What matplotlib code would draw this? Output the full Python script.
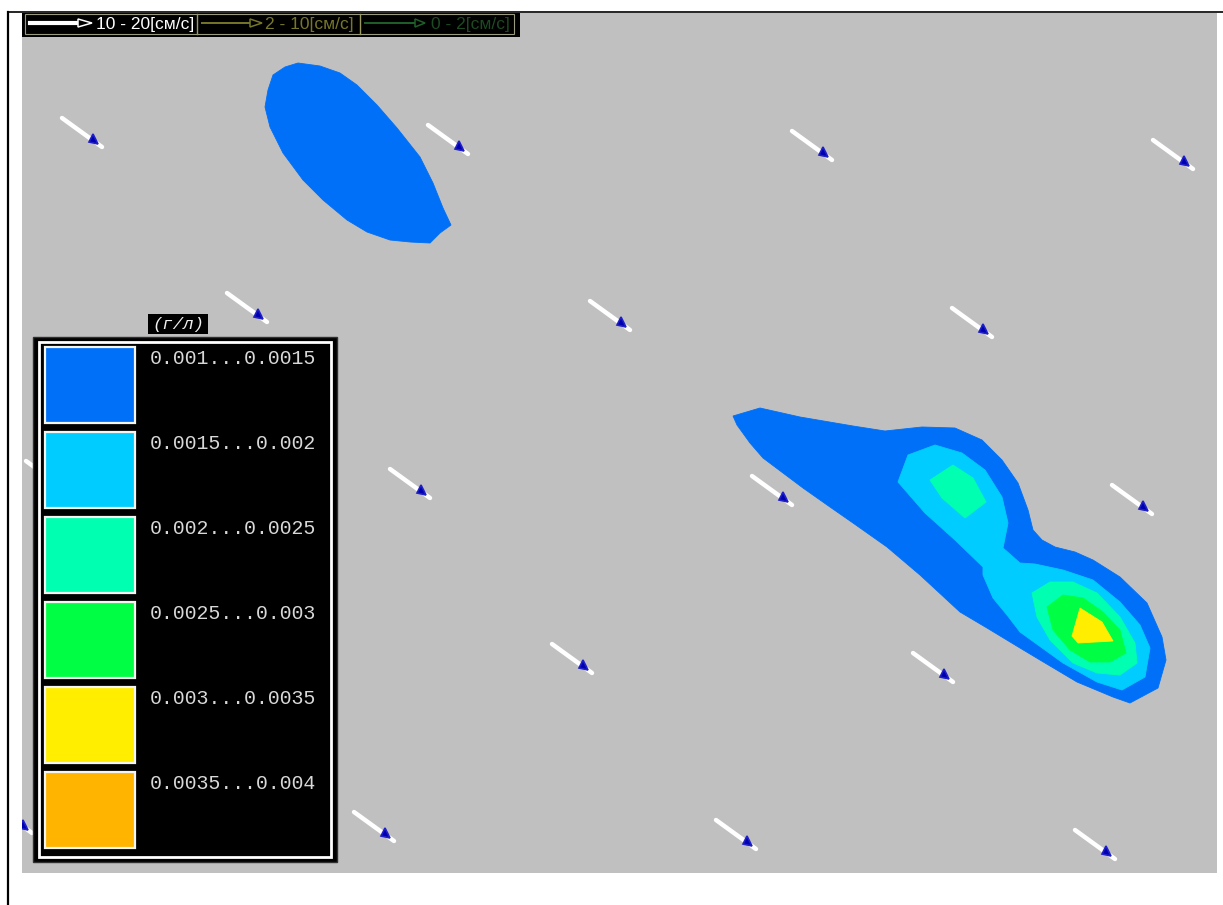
import matplotlib
matplotlib.use("Agg")
import matplotlib.pyplot as plt
from matplotlib.patches import Polygon, Rectangle

W, H = 1223, 905

# контуры концентрации (координаты снимка, пиксели)
blob_top = [(273, 75), (285, 67), (298, 63), (320, 66), (340, 73), (357, 85), (377, 105), (397, 128),
            (420, 157), (433, 183), (443, 208), (451, 225), (440, 233), (430, 243), (410, 242), (390, 240),
            (367, 232), (347, 220), (323, 200), (303, 180), (283, 153), (270, 127), (265, 107), (268, 90)]
blob_main = [(733, 416), (760, 408), (800, 417), (853, 426), (885, 431), (922, 427), (955, 428), (982, 440),
             (1002, 460), (1018, 483), (1028, 510), (1033, 530), (1042, 540), (1055, 547), (1075, 552),
             (1093, 560), (1120, 577), (1147, 603), (1162, 637), (1166, 660), (1158, 688), (1130, 703),
             (1113, 697), (1077, 682), (1040, 660), (1020, 648), (987, 628), (960, 612), (920, 575),
             (887, 547), (853, 523), (830, 507), (803, 488), (783, 473), (763, 458), (750, 443), (737, 425)]
blob_cyan = [(898, 482), (908, 455), (935, 445), (962, 453), (985, 470), (1002, 497), (1008, 523), (1003, 548),
             (1020, 563), (1035, 564), (1063, 570), (1093, 580), (1120, 602), (1140, 625), (1150, 648),
             (1145, 677), (1122, 690), (1097, 682), (1063, 663), (1020, 632), (1007, 615), (993, 598),
             (983, 575), (983, 567), (955, 540), (925, 513)]
blob_teal_a = [(930, 480), (953, 465), (973, 478), (986, 502), (965, 518), (942, 498)]
blob_teal_b = [(1032, 593), (1050, 582), (1073, 582), (1097, 593), (1120, 617), (1135, 643), (1137, 663),
               (1120, 675), (1097, 673), (1073, 663), (1050, 640), (1037, 617)]
blob_green = [(1047, 607), (1063, 595), (1083, 598), (1103, 612), (1120, 630), (1126, 653), (1110, 662),
              (1090, 662), (1070, 650), (1053, 630)]
blob_yellow = [(1080, 608), (1102, 622), (1113, 641), (1078, 643), (1072, 636)]

arrow_x = [62, 428, 792, 1153, 227, 590, 952, 26, 390, 752, 1112, 552, 913, -8, 354, 716, 1075]
arrow_y = [118, 125, 131, 140, 293, 301, 308, 461, 469, 476, 485, 644, 653, 804, 812, 820, 830]

legend_labels = ["0.001...0.0015", "0.0015...0.002", "0.002...0.0025",
                 "0.0025...0.003", "0.003...0.0035", "0.0035...0.004"]
legend_colors = ["#0070f8", "#00ccff", "#00ffb0", "#00ff44", "#ffee00", "#ffb400"]

speed_labels = ["10 - 20[см/с]", "2 - 10[см/с]", "0 - 2[см/с]"]
speed_colors = ["#ffffff", "#77772a", "#1f5f2a"]
speed_text_colors = ["#ffffff", "#77772a", "#1c4a22"]

fig = plt.figure(figsize=(W / 100, H / 100), dpi=100)
ax = fig.add_axes([0, 0, 1, 1])
ax.set_xlim(0, W)
ax.set_ylim(H, 0)
ax.axis("off")

# рамка страницы и поле карты
ax.plot([8, 8], [905, 12], color="black", lw=1.6, zorder=1)
ax.plot([8, 1223], [12, 12], color="black", lw=1.2, zorder=1)
field = Rectangle((22, 13), 1195, 860, facecolor="#c0c0c0", edgecolor="none", zorder=1)
ax.add_patch(field)

for pts, col in [(blob_top, legend_colors[0]), (blob_main, legend_colors[0]), (blob_cyan, legend_colors[1]),
                 (blob_teal_a, legend_colors[2]), (blob_teal_b, legend_colors[2]),
                 (blob_green, legend_colors[3]), (blob_yellow, legend_colors[4])]:
    ax.add_patch(Polygon(pts, closed=True, facecolor=col, edgecolor=col, lw=0.6, zorder=2))

# стрелки течения
for x, y in zip(arrow_x, arrow_y):
    line, = ax.plot([x, x + 40], [y, y + 29], color="white", lw=3.2, solid_capstyle="round", zorder=3)
    line.set_clip_path(field)
    head = Polygon([(x + 31, y + 16), (x + 27, y + 24), (x + 36, y + 26)], closed=True,
                   facecolor="#0000b0", edgecolor="#2020c8", lw=1.2, zorder=4)
    ax.add_patch(head)
    head.set_clip_path(field)

# легенда скоростей
ax.add_patch(Rectangle((22, 13), 498, 24, facecolor="black", edgecolor="none", zorder=5))
ax.add_patch(Rectangle((25, 14), 489, 20, facecolor="none", edgecolor="#9a9a80", lw=0.8, zorder=6))
for sep in [197, 360]:
    ax.plot([sep, sep], [14, 34], color="#9a9a60", lw=1, zorder=6)
line_starts = [30, 202, 365]
line_ends = [78, 250, 415]
head_ends = [92, 262, 425]
text_starts = [96, 265, 431]
for i, lab in enumerate(speed_labels):
    ax.plot([line_starts[i], line_ends[i]], [23, 23], color=speed_colors[i], lw=3 if i == 0 else 1.4, zorder=6)
    ax.add_patch(Polygon([(line_ends[i], 19), (head_ends[i], 23), (line_ends[i], 27)], closed=True,
                         facecolor="black", edgecolor=speed_colors[i], lw=1.1, zorder=6))
    ax.text(text_starts[i], 25, lab, color=speed_text_colors[i], fontsize=12.5, family="Liberation Sans",
            va="center", ha="left", zorder=7)

# легенда концентраций
ax.add_patch(Rectangle((148, 314), 60, 20, facecolor="black", edgecolor="none", zorder=5))
ax.text(178, 324, "(г/л)", color="#f0f0f0", fontsize=12.5, family="Liberation Mono", style="italic",
        ha="center", va="center", zorder=6)
ax.add_patch(Rectangle((33, 337), 304, 525, facecolor="black", edgecolor="#303030", lw=1, zorder=5))
ax.add_patch(Rectangle((39, 342), 292, 515, facecolor="none", edgecolor="white", lw=2, zorder=6))
for i, (lab, col) in enumerate(zip(legend_labels, legend_colors)):
    top = 347 + 85 * i
    ax.add_patch(Rectangle((45, top), 90, 76, facecolor=col, edgecolor="#f4f4f0", lw=1.6, zorder=6))
    ax.text(150, top + 11, lab, color="#d8d8d8", fontsize=14.3, family="Liberation Mono",
            ha="left", va="center", zorder=7)

fig.savefig("out.png", dpi=100)
